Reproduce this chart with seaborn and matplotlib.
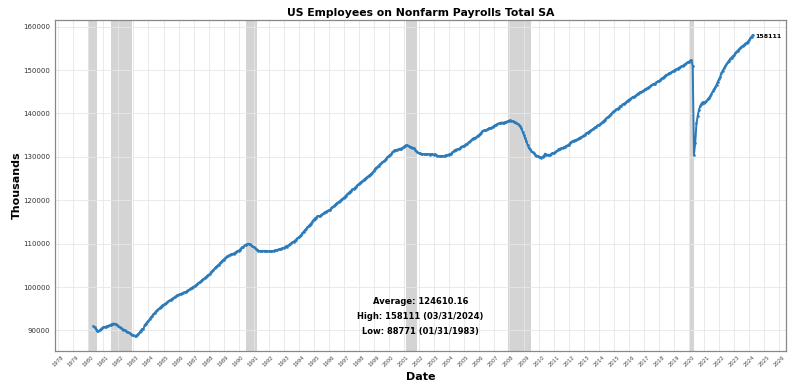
import pandas as pd
import matplotlib
matplotlib.use("Agg")
import matplotlib.pyplot as plt
import matplotlib.dates as mdates
import seaborn as sns

# Monthly payrolls (thousands), month-end, Apr 1980 .. Mar 2024
payrolls = [
    # 1980 (Apr-Dec)
    91000, 90700, 90300, 89900, 89850, 90050, 90300, 90550, 90750,
    # 1981
    90800, 90900, 91000, 91100, 91200, 91350, 91500, 91600, 91550, 91400, 91200, 90950,
    # 1982
    90700, 90600, 90450, 90200, 90100, 89850, 89700, 89550, 89350, 89100, 88950, 88850,
    # 1983
    88771, 88800, 88950, 89250, 89550, 89950, 90350, 90300, 91250, 91550, 91900, 92250,
    # 1984
    92600, 93050, 93350, 93700, 94050, 94400, 94650, 94900, 95200, 95450, 95750, 95950,
    # 1985
    96100, 96250, 96500, 96700, 96950, 97100, 97300, 97500, 97700, 97900, 98100, 98250,
    # 1986
    98350, 98450, 98550, 98750, 98850, 98900, 99150, 99300, 99500, 99700, 99900, 100100,
    # 1987
    100200, 100450, 100700, 100950, 101150, 101350, 101650, 101850, 102050, 102350, 102600, 102850,
    # 1988
    103000, 103400, 103700, 104000, 104300, 104650, 104900, 105150, 105450, 105750, 106050, 106350,
    # 1989
    106600, 106850, 107050, 107250, 107400, 107550, 107650, 107700, 107900, 108050, 108250, 108400,
    # 1990
    108600, 108900, 109150, 109350, 109600, 109800, 109900, 109980, 109850, 109650, 109400, 109250,
    # 1991
    109050, 108850, 108600, 108400, 108300, 108350, 108300, 108300, 108350, 108350, 108300, 108250,
    # 1992
    108300, 108250, 108300, 108350, 108450, 108500, 108550, 108700, 108750, 108850, 108950, 109050,
    # 1993
    109150, 109400, 109350, 109650, 109900, 110050, 110300, 110450, 110700, 110950, 111200, 111450,
    # 1994
    111750, 111950, 112400, 112750, 113100, 113400, 113750, 114050, 114400, 114650, 115100, 115500,
    # 1995
    115800, 116000, 116300, 116400, 116350, 116600, 116800, 117000, 117250, 117400, 117550, 117700,
    # 1996
    117700, 118150, 118450, 118600, 118900, 119200, 119450, 119600, 119800, 120100, 120350, 120550,
    # 1997
    120850, 121100, 121450, 121700, 121950, 122200, 122500, 122550, 122900, 123150, 123450, 123750,
    # 1998
    124000, 124200, 124350, 124650, 124950, 125150, 125350, 125650, 125850, 126100, 126350, 126700,
    # 1999
    127200, 127500, 127650, 128000, 128250, 128500, 128800, 129000, 129200, 129600, 129900, 130200,
    # 2000
    130450, 130600, 131050, 131350, 131600, 131500, 131700, 131750, 131900, 131900, 132100, 132300,
    # 2001
    132500, 132700, 132650, 132400, 132350, 132200, 132100, 131950, 131700, 131350, 131050, 130900,
    # 2002
    130800, 130700, 130650, 130600, 130600, 130650, 130600, 130600, 130550, 130650, 130650, 130500,
    # 2003
    130600, 130450, 130250, 130200, 130200, 130200, 130200, 130150, 130300, 130400, 130450, 130550,
    # 2004
    130700, 130750, 131050, 131300, 131600, 131700, 131750, 131850, 132000, 132350, 132400, 132550,
    # 2005
    132700, 132950, 133050, 133400, 133550, 133800, 134150, 134350, 134400, 134500, 134850, 135000,
    # 2006
    135300, 135600, 135900, 136100, 136100, 136200, 136400, 136550, 136700, 136700, 136900, 137100,
    # 2007
    137300, 137400, 137600, 137700, 137800, 137900, 137900, 137900, 138000, 138100, 138200, 138350,
    # 2008
    138400, 138350, 138250, 138100, 137950, 137800, 137650, 137450, 137050, 136550, 135850, 135150,
    # 2009
    134350, 133600, 132800, 132150, 131800, 131350, 131050, 130800, 130550, 130300, 130250, 129950,
    # 2010
    129900, 129850, 130000, 130250, 130750, 130550, 130500, 130450, 130400, 130750, 130900, 130950,
    # 2011
    131050, 131250, 131500, 131800, 131900, 132000, 132100, 132200, 132350, 132550, 132650, 132850,
    # 2012
    133200, 133450, 133650, 133750, 133850, 133950, 134100, 134250, 134450, 134600, 134750, 134950,
    # 2013
    135150, 135450, 135600, 135800, 136000, 136200, 136350, 136600, 136800, 137000, 137300, 137350,
    # 2014
    137550, 137750, 138050, 138350, 138600, 138900, 139150, 139350, 139650, 139950, 140300, 140550,
    # 2015
    140700, 140950, 141050, 141350, 141650, 141800, 142100, 142250, 142400, 142700, 142950, 143200,
    # 2016
    143300, 143550, 143800, 143900, 143950, 144250, 144550, 144700, 144950, 145000, 145200, 145350,
    # 2017
    145600, 145750, 145900, 146100, 146250, 146450, 146700, 146850, 146900, 147150, 147400, 147550,
    # 2018
    147650, 148050, 148200, 148400, 148700, 148900, 149000, 149250, 149350, 149500, 149700, 149900,
    # 2019
    150100, 150150, 150350, 150550, 150650, 150850, 151000, 151200, 151400, 151550, 151850, 151950,
    # 2020
    152150, 152350, 150900, 130500, 133200, 137700, 139500, 140900, 141700, 142300, 142600, 142500,
    # 2021
    142700, 142800, 143300, 143600, 144000, 144500, 145100, 145600, 146000, 146600, 147300, 147900,
    # 2022
    148500, 149300, 149900, 150400, 150900, 151300, 151800, 152200, 152600, 152900, 153200, 153400,
    # 2023
    153900, 154200, 154500, 154800, 155100, 155400, 155600, 155800, 156100, 156300, 156500, 156900,
    # 2024 (Jan-Mar)
    157300, 157700, 158111,
]

recession_starts = ["1980-01-01", "1981-07-01", "1990-07-01", "2001-03-01", "2007-12-01", "2020-02-01"]
recession_ends = ["1980-07-31", "1982-11-30", "1991-03-31", "2001-11-30", "2009-06-30", "2020-04-30"]

avg_value = 124610.16
high_value, high_date = 158111, "03/31/2024"
low_value, low_date = 88771, "01/31/1983"

dates = pd.date_range("1980-04-30", periods=len(payrolls), freq="ME")
df = pd.DataFrame({"Date": dates, "Thousands": payrolls})

sns.set_style("whitegrid")
plt.rcParams['font.family'] = ['DejaVu Sans']
plt.rcParams['text.color'] = 'black'
plt.rcParams['axes.labelcolor'] = 'black'

fig, ax = plt.subplots(figsize=(8, 3.89), dpi=100)
fig.subplots_adjust(left=0.069, right=0.9825, bottom=0.098, top=0.949)

for s, e in zip(recession_starts, recession_ends):
    ax.axvspan(pd.Timestamp(s), pd.Timestamp(e), color="#d4d4d4", zorder=0.2, linewidth=0)

sns.lineplot(data=df, x="Date", y="Thousands", ax=ax, color="#2b7bba", linewidth=1.4,
             marker="o", markersize=1.9, markeredgewidth=0)

last = df.iloc[-1]
ax.annotate(f"{int(last['Thousands'])}", (last["Date"], last["Thousands"]),
            xytext=(2, -1), textcoords="offset points", fontsize=4.5,
            fontweight="bold", va="center", ha="left")

stats = (f"Average: {avg_value:.2f}", f"High: {high_value} ({high_date})", f"Low: {low_value} ({low_date})")
for txt, yy in zip(stats, [0.149, 0.104, 0.059]):
    ax.text(0.5, yy, txt, transform=ax.transAxes, ha="center", va="center",
            fontsize=6, fontweight="bold")

ax.xaxis.set_major_locator(mdates.YearLocator())
ax.xaxis.set_major_formatter(mdates.DateFormatter("%Y"))
plt.setp(ax.get_xticklabels(), rotation=45, fontsize=3.8, color="#444444")
ax.tick_params(axis="y", labelsize=5, colors="#333333", length=2, width=0.5, pad=1.5)
ax.tick_params(axis="x", length=2, width=0.5, pad=1)
ax.grid(True, color="#e6e6e6", linewidth=0.6)
for sp in ax.spines.values():
    sp.set_color("#888888")
    sp.set_linewidth(0.9)

ax.set_title("US Employees on Nonfarm Payrolls Total SA", fontsize=7.8, fontweight="bold", pad=3)
ax.set_xlabel("Date", fontsize=8, fontweight="bold", labelpad=3)
ax.set_ylabel("Thousands", fontsize=8, fontweight="bold", labelpad=1)

fig.savefig("out.png", dpi=100)
